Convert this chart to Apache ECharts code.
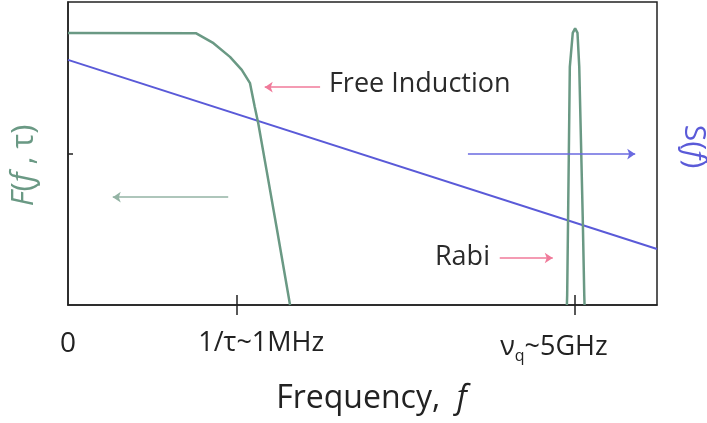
<!DOCTYPE html>
<html>
<head>
<meta charset="utf-8">
<script src="https://cdn.jsdelivr.net/npm/echarts@6/dist/echarts.min.js"></script>
<style>
  html, body { margin: 0; padding: 0; background: #fff; }
  #chart { width: 707px; height: 423px; }
</style>
</head>
<body>
<div id="chart"></div>
<script>
// filter function F(f, tau): flat plateau, roll-off near 1/tau, narrow Rabi peak at nu_q
var freeInduction = [
  [0, 89.8], [21.7, 89.7], [24.7, 86.4], [27.5, 81.9], [29.5, 77.6],
  [30.9, 73.2], [31.7, 65.4], [32.3, 60.0], [33.7, 44.6], [35.4, 25.8], [37.7, 0]
];
var rabiPeak = [
  [84.7, 0], [84.75, 3.3], [84.9, 28.1], [85.2, 78.6], [85.7, 89.8], [86.1, 91.3],
  [86.5, 89.8], [86.8, 78.6], [87.4, 28.1], [87.65, 3.3], [87.7, 0]
];
// noise spectrum S(f)
var noiseSpectrum = [[0, 80.9], [100, 18.5]];

var xTicks = [28.7, 86.1];
var xLabelPos = [0, 32.8, 82.5];
var xLabels = ['0', '{n|1/τ~1MHz}', '{n|ν}{sub|q}{n|~5GHz}'];
var yTicks = [50];

var font = 'Open Sans';
var green = '#6a9984';
var blue = '#5a5ad8';
var pink = '#f07a9a';

var chart = echarts.init(document.getElementById('chart'));
chart.setOption({
  animation: false,
  grid: {
    left: 68, right: 50, top: 2, bottom: 118,
    outerBoundsMode: 'none', containLabel: false,
    show: true, borderColor: '#222', borderWidth: 1.5
  },
  xAxis: [{
    type: 'value', min: 0, max: 100,
    splitLine: { show: false },
    axisLine: { lineStyle: { color: '#222', width: 1.5 } },
    axisTick: { customValues: xTicks, inside: true, length: 10, lineStyle: { color: '#222', width: 1.5 } },
    axisLabel: {
      customValues: xLabelPos,
      margin: 25,
      color: '#222', fontFamily: font, fontSize: 28,
      formatter: function (v) { return xLabels[xLabelPos.indexOf(v)]; },
      rich: {
        n: { fontFamily: font, fontSize: 27, color: '#222' },
        sub: { fontFamily: font, fontSize: 16, color: '#222', verticalAlign: 'bottom', padding: [18, 0, 0, 0] }
      }
    },
    name: '{n|Frequency,  }{i|f}',
    nameLocation: 'middle', nameGap: 78,
    nameTextStyle: {
      padding: [0, 0, 0, 18],
      rich: {
        n: { fontFamily: font, fontSize: 32, color: '#222' },
        i: { fontFamily: font, fontSize: 32, color: '#222', fontStyle: 'italic' }
      }
    }
  }, {
    type: 'value', min: 0, max: 100, position: 'bottom',
    splitLine: { show: false },
    axisLine: { show: false },
    axisLabel: { show: false },
    axisTick: { customValues: xTicks, inside: false, length: 10, lineStyle: { color: '#222', width: 1.5 } }
  }],
  yAxis: [{
    type: 'value', min: 0, max: 100,
    splitLine: { show: false },
    axisLine: { lineStyle: { color: '#222', width: 1.5 } },
    axisTick: { customValues: yTicks, inside: true, length: 5, lineStyle: { color: '#222', width: 1.5 } },
    axisLabel: { show: false },
    name: '{i|F}{n|(}{i|f }{n|, τ)}',
    nameLocation: 'middle', nameGap: 28, nameRotate: 90,
    nameTextStyle: {
      padding: [0, 24, 0, 0],
      rich: {
        n: { fontFamily: font, fontSize: 31, color: green },
        i: { fontFamily: font, fontSize: 31, color: green, fontStyle: 'italic' }
      }
    }
  }, {
    type: 'value', min: 0, max: 100, position: 'right',
    splitLine: { show: false },
    axisLine: { show: false },
    axisTick: { show: false },
    axisLabel: { show: false },
    name: '{n|S(}{i|f}{n|)}',
    nameLocation: 'middle', nameGap: 22, nameRotate: -90,
    nameTextStyle: {
      padding: [0, 14, 0, 0],
      rich: {
        n: { fontFamily: font, fontSize: 30, color: blue },
        i: { fontFamily: font, fontSize: 30, color: blue, fontStyle: 'italic' }
      }
    }
  }],
  series: [{
    type: 'line', name: 'S(f)', data: noiseSpectrum,
    symbol: 'none', lineStyle: { color: blue, width: 2 },
    markLine: {
      silent: true, symbol: ['none', 'arrow'], symbolSize: [8, 8],
      label: { show: false },
      lineStyle: { color: '#6a6ae0', width: 1.5, type: 'solid' },
      data: [[{ coord: [67.9, 49.8] }, { coord: [96.3, 49.8] }]]
    }
  }, {
    type: 'line', name: 'F free induction', data: freeInduction,
    symbol: 'none', lineStyle: { color: green, width: 2.5 },
    markLine: {
      silent: true, symbol: ['none', 'arrow'], symbolSize: [8, 8],
      label: { show: false },
      lineStyle: { color: '#93b3a4', width: 1.5, type: 'solid' },
      data: [[{ coord: [27.2, 35.6] }, { coord: [7.6, 35.6] }]]
    }
  }, {
    type: 'line', name: 'F Rabi', data: rabiPeak,
    symbol: 'none', lineStyle: { color: green, width: 2.5 },
    markLine: {
      silent: true, symbol: ['none', 'arrow'], symbolSize: [8, 8],
      label: { show: false },
      lineStyle: { color: pink, width: 1.5, type: 'solid' },
      data: [
        [{ coord: [42.8, 71.9] }, { coord: [33.4, 71.9] }],
        [{ coord: [73.3, 15.5] }, { coord: [82.3, 15.5] }]
      ]
    },
    markPoint: {
      silent: true, symbol: 'circle', symbolSize: 0,
      label: {
        show: true, position: 'right', distance: 0,
        fontFamily: font, fontSize: 27, color: '#2a2a2a',
        formatter: '{b}'
      },
      data: [
        { name: 'Free Induction', coord: [44.3, 72.9] },
        { name: 'Rabi', coord: [62.3, 15.8] }
      ]
    }
  }]
});
</script>
</body>
</html>
